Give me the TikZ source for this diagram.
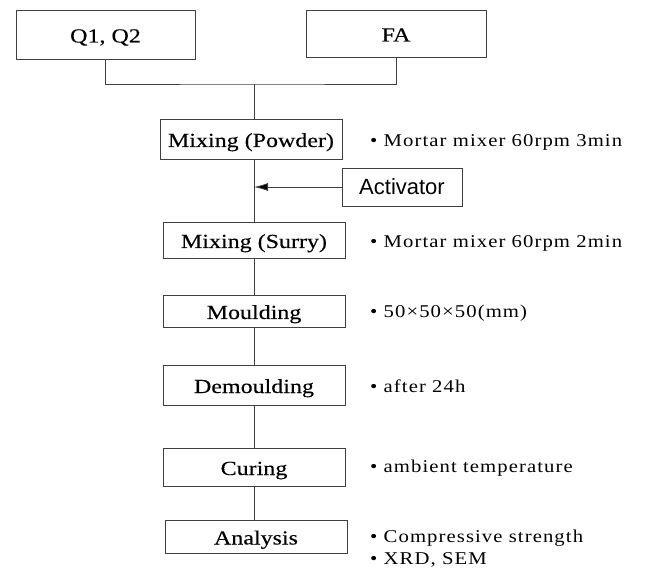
\documentclass[tikz,border=0pt]{standalone}
\usepackage{fontspec}
\setmainfont{Liberation Serif}[FakeStretch=1.2, FakeBold=0.25]
\newfontfamily\notefont{Liberation Serif}[FakeStretch=1.15, LetterSpace=6]
\newfontfamily\actfont{Liberation Sans}
\usetikzlibrary{arrows.meta}

\tikzset{
	stage/.style={draw=black!75, line width=0.8pt, minimum width=182pt, inner sep=0pt, text height=16pt, text depth=0pt, font=\fontsize{20}{24}\selectfont},
	note/.style={anchor=base west, inner sep=0pt, font=\notefont\fontsize{18}{21}\selectfont},
	link/.style={draw=black!75, line width=0.8pt},
}

\begin{document}
\begin{tikzpicture}[x=1pt, y=-1pt]
	\useasboundingbox (0,0) rectangle (659,569);

	% raw materials
	\node [stage, minimum width=179pt, minimum height=49pt] (q) at (105.5,34.5) {Q1, Q2};
	\node [stage, minimum width=180pt, minimum height=47pt] (fa) at (396,33.5) {FA};
	\coordinate (join) at (254,84);
	\draw [link] (q.south) |- (join) -| (fa.south);

	% process
	\node [stage, minimum height=40pt] (mixp) at (251,139) {Mixing (Powder)};
	\node [stage, minimum height=36pt] (mixs) at (254,240) {Mixing (Surry)};
	\node [stage, minimum height=32pt] (mould) at (254,311) {Moulding};
	\node [stage, minimum height=40pt] (demould) at (254,385) {Demoulding};
	\node [stage, minimum height=38pt] (cure) at (254,467) {Curing};
	\node [stage, minimum height=33pt] (anal) at (256,536.5) {Analysis};

	\draw [link] (join) -- (join |- mixp.north);
	\draw [link] (join |- mixp.south) -- (join |- mixs.north);
	\draw [link] (join |- mixs.south) -- (join |- mould.north);
	\draw [link] (join |- mould.south) -- (join |- demould.north);
	\draw [link] (join |- demould.south) -- (join |- cure.north);
	\draw [link] (join |- cure.south) -- (join |- anal.north);

	% activator
	\node [draw=black!75, line width=0.8pt, minimum width=120pt, minimum height=38pt, inner sep=0pt, font=\actfont\fontsize{22}{26}\selectfont] (act) at (402,187) {Activator};
	\draw [link, -{Latex[length=14pt, width=8pt, fill=black]}] (act.west) -- (act.west -| join);

	% conditions
	\node [note] (n1) at (370,147) {•\ Mortar mixer 60rpm 3min};
	\node [note] (n2) at (370,248) {•\ Mortar mixer 60rpm 2min};
	\node [note] (n3) at (370,318) {•\ 50×50×50(mm)};
	\node [note] (n4) at (370,392) {•\ after 24h};
	\node [note] (n5) at (370,472) {•\ ambient temperature};
	\node [note] (n6) at (370,542) {•\ Compressive strength};
	\node [note] (n7) at (370,564) {•\ XRD, SEM};
\end{tikzpicture}
\end{document}
